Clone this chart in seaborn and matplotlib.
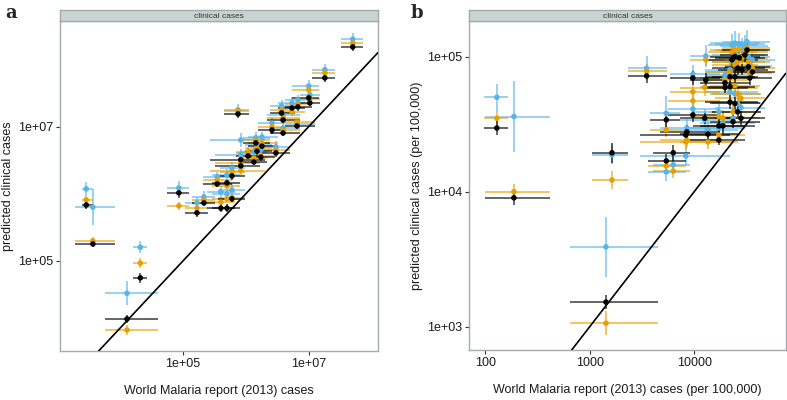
import numpy as np
import pandas as pd
import matplotlib
matplotlib.use("Agg")
import matplotlib.pyplot as plt
import seaborn as sns

# ---------------------------------------------------------------------------
# Panel a: absolute clinical cases, WMR (2013) vs predicted
# ---------------------------------------------------------------------------
a_wmr = [5.0e7, 1.8e7, 1.0e7, 1.04e7, 6.7e6, 5.4e6, 3.7e6, 3.9e6, 2.6e6, 3.9e6,
         6.5e6, 7.5e5, 1.44e6, 1.8e6, 1.5e6, 1.08e6, 3.0e6, 1.34e6, 1.73e6, 8.3e5,
         8.3e5, 6.0e5, 3.5e5, 5.0e5, 8.6e4, 1.67e5, 2.15e5, 4.0e5, 5.0e5, 6.0e5,
         2.9e3, 3.7e3, 2.1e4, 1.29e4]
a_wmr_lo = [3.2e7, 1.12e7, 5.4e6, 7.2e6, 4.2e6, 3.2e6, 2.4e6, 2.2e6, 1.55e6, 2.4e6,
            4.2e6, 4.5e5, 9.0e5, 1.08e6, 9.6e5, 6.9e5, 1.8e6, 8.0e5, 1.08e6, 2.7e5,
            3.2e5, 3.9e5, 2.1e5, 2.9e5, 5.6e4, 1.08e5, 1.39e5, 2.4e5, 2.9e5, 3.6e5,
            2.5e3, 1.93e3, 1.6e4, 5.8e3]
a_wmr_hi = [7.2e7, 2.6e7, 1.44e7, 1.5e7, 1.12e7, 8.6e6, 6.0e6, 7.2e6, 4.2e6, 7.2e6,
            1.24e7, 1.12e6, 2.4e6, 3.2e6, 2.6e6, 1.8e6, 5.0e6, 2.2e6, 2.9e6, 2.0e6,
            1.67e6, 9.6e5, 6.0e5, 8.0e5, 1.25e5, 2.5e5, 3.2e5, 6.7e5, 8.0e5, 9.6e5,
            3.7e3, 8.3e3, 2.7e4, 4.0e4]
a_pred_black = [1.53e8, 5.3e7, 2.67e7, 2.24e7, 1.96e7, 1.89e7, 1.59e7, 1.25e7, 8.9e6, 8.0e6,
                1.02e7, 1.54e7, 5.7e6, 5.1e6, 4.3e6, 3.65e6, 4.05e6, 2.97e6, 3.5e6, 3.2e6,
                2.6e6, 1.84e6, 1.4e6, 1.45e6, 1.03e6, 5.2e5, 7.3e5, 6.1e5, 6.1e5, 8.4e5,
                6.8e5, 1.79e5, 5.6e4, 1.37e4]
a_pred_orange = [1.75e8, 6.3e7, 3.5e7, 2.58e7, 2.17e7, 1.65e7, 1.77e7, 1.34e7, 9.9e6, 8.9e6,
                 1.17e7, 1.71e7, 6.3e6, 5.7e6, 4.8e6, 4.2e6, 4.5e6, 3.4e6, 3.65e6, 2.2e6,
                 2.87e6, 2.1e6, 1.6e6, 1.31e6, 6.6e5, 6.1e5, 8.1e5, 7.5e5, 8.4e5, 8.7e5,
                 8.1e5, 1.99e5, 9.3e4, 9.4e3]
a_pred_blue = [2.0e8, 7.0e7, 4.0e7, 2.95e7, 2.49e7, 2.24e7, 2.03e7, 1.49e7, 1.13e7, 9.5e6,
               1.09e7, 1.77e7, 6.8e6, 7.0e6, 5.3e6, 4.05e6, 5.0e6, 4.2e6, 4.5e6, 6.3e6,
               3.8e6, 2.4e6, 1.78e6, 1.9e6, 1.22e6, 7.3e5, 9.0e5, 1.06e6, 9.9e5, 1.14e6,
               1.18e6, 6.3e5, 1.6e5, 3.3e4]
# half-width of the vertical credible interval, in decades
a_err_black = [0.06, 0.06, 0.06, 0.05, 0.06, 0.05, 0.06, 0.05, 0.06, 0.05,
               0.05, 0.06, 0.06, 0.05, 0.06, 0.05, 0.06, 0.05, 0.05, 0.06,
               0.05, 0.06, 0.05, 0.05, 0.08, 0.06, 0.05, 0.06, 0.06, 0.05,
               0.06, 0.05, 0.07, 0.06]
a_err_orange = [0.06, 0.05, 0.06, 0.05, 0.05, 0.06, 0.05, 0.06, 0.05, 0.05,
                0.06, 0.06, 0.05, 0.06, 0.05, 0.06, 0.05, 0.05, 0.06, 0.06,
                0.05, 0.05, 0.06, 0.05, 0.06, 0.06, 0.05, 0.06, 0.05, 0.06,
                0.06, 0.06, 0.07, 0.07]
a_err_blue = [0.09, 0.08, 0.09, 0.08, 0.08, 0.09, 0.08, 0.08, 0.09, 0.08,
              0.08, 0.08, 0.09, 0.08, 0.09, 0.08, 0.08, 0.09, 0.08, 0.10,
              0.08, 0.09, 0.08, 0.09, 0.10, 0.09, 0.08, 0.09, 0.08, 0.09,
              0.10, 0.27, 0.09, 0.18]

# ---------------------------------------------------------------------------
# Panel b: clinical cases per 100,000
# ---------------------------------------------------------------------------
b_wmr = [129, 188, 3.5e3, 1.63e3, 5.4e3, 6.3e3, 1.43e3, 5.4e3, 8.3e3, 8.5e3,
         9.7e3, 1.26e4, 9.7e3, 1.35e4, 1.72e4, 1.88e4, 2.35e4, 2.8e4, 2.6e4, 2.2e4,
         2.45e4, 1.97e4, 2.2e4, 2.45e4, 3.3e4, 3.6e4, 3.4e4, 2.6e4, 2.86e4, 2.3e4,
         2.45e4, 2.7e4, 3.2e4, 3.05e4, 1.29e4, 1.97e4, 1.72e4, 2.2e4]
b_wmr_lo = [97, 100, 2.3e3, 1.05e3, 3.6e3, 4.0e3, 650, 3.77e3, 3.0e3, 4.7e3,
            5.6e3, 7.3e3, 5.9e3, 7.3e3, 9.1e3, 1.13e4, 1.41e4, 1.58e4, 1.48e4, 1.26e4,
            1.41e4, 1.13e4, 1.26e4, 1.48e4, 1.97e4, 2.1e4, 1.97e4, 1.48e4, 1.69e4, 1.35e4,
            1.41e4, 1.58e4, 1.84e4, 1.76e4, 9.1e3, 1.26e4, 9.7e3, 1.26e4]
b_wmr_hi = [165, 416, 5.5e3, 2.3e3, 8.3e3, 9.1e3, 4.5e3, 7.3e3, 2.2e4, 1.76e4,
            1.76e4, 2.45e4, 1.76e4, 2.6e4, 3.05e4, 3.8e4, 4.3e4, 4.75e4, 4.4e4, 4.1e4,
            4.3e4, 3.4e4, 3.8e4, 4.1e4, 5.3e4, 5.9e4, 5.5e4, 4.75e4, 5.1e4, 4.1e4,
            4.3e4, 4.75e4, 5.3e4, 5.1e4, 1.97e4, 3.3e4, 3.05e4, 3.8e4]
b_pred_black = [2.96e4, 9.0e3, 7.2e4, 1.94e4, 1.69e4, 1.94e4, 1.52e3, 3.4e4, 2.63e4, 2.77e4,
                3.7e4, 3.5e4, 6.95e4, 2.67e4, 2.41e4, 3.07e4, 3.3e4, 3.5e4, 3.9e4, 4.6e4,
                4.5e4, 6.4e4, 7.1e4, 7.1e4, 8.4e4, 7.7e4, 6.95e4, 8.2e4, 8.0e4, 9.5e4,
                1.0e5, 9.8e4, 1.12e5, 1.03e5, 6.7e4, 5.9e4, 3.07e4, 6.0e4]
b_pred_orange = [3.5e4, 1.0e4, 7.8e4, 1.22e4, 1.55e4, 1.42e4, 1.06e3, 2.87e4, 2.33e4, 2.41e4,
                 4.7e4, 5.9e4, 5.5e4, 2.33e4, 2.63e4, 3.5e4, 3.9e4, 4.9e4, 5.3e4, 5.9e4,
                 6.1e4, 6.0e4, 7.7e4, 8.7e4, 9.1e4, 8.2e4, 7.6e4, 9.1e4, 9.8e4, 1.08e5,
                 1.12e5, 1.12e5, 1.16e5, 1.08e5, 9.5e4, 6.7e4, 3.6e4, 6.95e4]
b_pred_blue = [5.0e4, 3.6e4, 8.2e4, 1.87e4, 1.4e4, 1.58e4, 3.9e3, 3.8e4, 1.84e4, 2.96e4,
               4.1e4, 3.4e4, 7.4e4, 2.87e4, 2.96e4, 3.2e4, 3.5e4, 4.2e4, 4.5e4, 5.5e4,
               5.3e4, 6.95e4, 8.0e4, 9.1e4, 9.95e4, 9.5e4, 8.5e4, 1.03e5, 1.12e5, 1.22e5,
               1.26e5, 1.24e5, 1.29e5, 1.2e5, 1.01e5, 7.3e4, 3.9e4, 7.7e4]
b_err_black = [0.05, 0.05, 0.05, 0.075, 0.05, 0.06, 0.05, 0.05, 0.04, 0.05,
               0.05, 0.04, 0.05, 0.05, 0.04, 0.05, 0.05, 0.05, 0.04, 0.05,
               0.05, 0.05, 0.04, 0.05, 0.05, 0.04, 0.05, 0.05, 0.04, 0.05,
               0.05, 0.04, 0.05, 0.05, 0.05, 0.04, 0.05, 0.05]
b_err_orange = [0.05, 0.06, 0.05, 0.07, 0.05, 0.05, 0.09, 0.05, 0.05, 0.05,
                0.05, 0.06, 0.05, 0.05, 0.05, 0.06, 0.05, 0.05, 0.06, 0.05,
                0.05, 0.05, 0.06, 0.05, 0.05, 0.05, 0.06, 0.05, 0.05, 0.05,
                0.06, 0.05, 0.05, 0.05, 0.05, 0.06, 0.05, 0.05]
b_err_blue = [0.10, 0.26, 0.09, 0.07, 0.07, 0.07, 0.22, 0.13, 0.07, 0.07,
              0.07, 0.08, 0.07, 0.07, 0.07, 0.08, 0.07, 0.07, 0.08, 0.07,
              0.08, 0.07, 0.08, 0.08, 0.08, 0.07, 0.08, 0.08, 0.09, 0.08,
              0.09, 0.08, 0.09, 0.08, 0.08, 0.07, 0.07, 0.08]

series_names = ["model 3", "model 2", "model 1"]   # drawn back to front
series_colors = {"model 1": "#000000", "model 2": "#E69F00", "model 3": "#56B4E9"}

strip_face = "#C9D3D1"
frame_col = "#A3ACAA"


def long_table(wmr, lo, hi, preds, errs):
    rows = []
    for name, pred, err in zip(series_names, preds, errs):
        for i in range(len(wmr)):
            rows.append({"series": name, "wmr": wmr[i], "wmr_lo": lo[i], "wmr_hi": hi[i],
                         "pred": pred[i], "pred_lo": pred[i] / 10 ** err[i],
                         "pred_hi": pred[i] * 10 ** err[i]})
    return pd.DataFrame(rows)


df_a = long_table(a_wmr, a_wmr_lo, a_wmr_hi,
                  [a_pred_blue, a_pred_orange, a_pred_black],
                  [a_err_blue, a_err_orange, a_err_black])
df_b = long_table(b_wmr, b_wmr_lo, b_wmr_hi,
                  [b_pred_blue, b_pred_orange, b_pred_black],
                  [b_err_blue, b_err_orange, b_err_black])

sns.set_theme(style="white")
plt.rcParams['font.family'] = ['Liberation Sans', 'DejaVu Sans']

fig = plt.figure(figsize=(7.87, 4.0), dpi=100)


def draw_panel(df, rect, xlim, ylim, xticks, xlabels, yticks, ylabels, xlabel, ylabel):
    ax = fig.add_axes(rect)
    strip = fig.add_axes([rect[0], rect[1] + rect[3], rect[2], 0.0275])
    ax.set_xscale("log")
    ax.set_yscale("log")

    # error bars, one colour at a time so black ends on top
    for name in series_names:
        sub = df[df["series"] == name]
        ax.errorbar(sub["wmr"], sub["pred"],
                    xerr=[sub["wmr"] - sub["wmr_lo"], sub["wmr_hi"] - sub["wmr"]],
                    yerr=[sub["pred"] - sub["pred_lo"], sub["pred_hi"] - sub["pred"]],
                    fmt="none", ecolor=series_colors[name], elinewidth=1.2,
                    alpha=0.7, capsize=0, zorder=2)

    sns.scatterplot(data=df, x="wmr", y="pred", hue="series", hue_order=series_names,
                    palette=series_colors, s=16, linewidth=0, legend=False, ax=ax,
                    zorder=3)

    # identity line
    ax.axline((1e3, 1e3), (1e6, 1e6), color="black", lw=1.2, zorder=4)

    ax.set_xlim(*xlim)
    ax.set_ylim(*ylim)
    ax.set_xticks(xticks)
    ax.set_xticklabels(xlabels)
    ax.set_yticks(yticks)
    ax.set_yticklabels(ylabels)
    ax.minorticks_off()
    ax.tick_params(axis="both", which="major", direction="out", length=3, width=0.8,
                   color="#333333", labelsize=9, labelcolor="#1a1a1a", pad=2,
                   bottom=True, left=True)
    ax.set_xlabel(xlabel, fontsize=9, color="#1a1a1a", labelpad=11)
    ax.set_ylabel(ylabel, fontsize=9, color="#1a1a1a", labelpad=3)
    for sp in ax.spines.values():
        sp.set_color(frame_col)
        sp.set_linewidth(1.0)
    ax.grid(False)

    strip.set_facecolor(strip_face)
    strip.set_xticks([])
    strip.set_yticks([])
    for sp in strip.spines.values():
        sp.set_color(frame_col)
        sp.set_linewidth(1.0)
    strip.text(0.5, 0.45, "clinical cases", ha="center", va="center",
               fontsize=6, color="#333333", transform=strip.transAxes)
    return ax


ax_a = draw_panel(df_a, [0.0766, 0.1225, 0.4037, 0.825],
                  (10 ** 3.05, 10 ** 8.1), (10 ** 3.66, 10 ** 8.57),
                  [1e5, 1e7], ["1e+05", "1e+07"],
                  [1e5, 1e7], ["1e+05", "1e+07"],
                  "World Malaria report (2013) cases", "predicted clinical cases")

ax_b = draw_panel(df_b, [0.5963, 0.125, 0.402, 0.8225],
                  (10 ** 1.847, 10 ** 4.875), (10 ** 2.827, 10 ** 5.264),
                  [100, 1000, 10000], ["100", "1000", "10000"],
                  [1e3, 1e4, 1e5], ["1e+03", "1e+04", "1e+05"],
                  "World Malaria report (2013) cases (per 100,000)",
                  "predicted clinical cases (per 100,000)")

fig.text(0.007, 0.967, "a", fontsize=13, fontweight="bold", family="DejaVu Serif",
         ha="left", va="center")
fig.text(0.522, 0.967, "b", fontsize=13, fontweight="bold", family="DejaVu Serif",
         ha="left", va="center")

fig.savefig("out.png", dpi=100)
